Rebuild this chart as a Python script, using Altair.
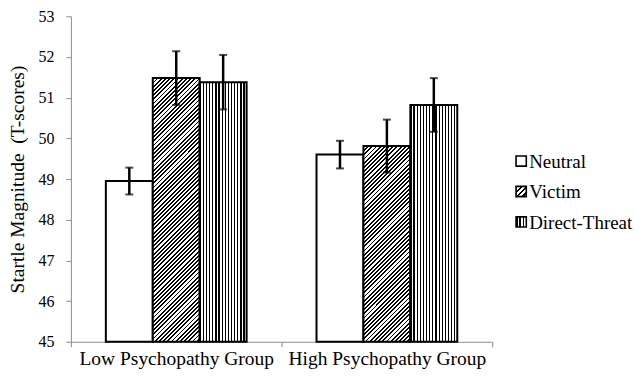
import altair as alt
import pandas as pd

groups = ["Low Psychopathy Group", "High Psychopathy Group"]
conditions = ["Neutral", "Victim", "Direct-Threat"]
means = {
    "Low Psychopathy Group": [48.95, 51.48, 51.38],
    "High Psychopathy Group": [49.60, 49.81, 50.82],
}
errors = {
    "Low Psychopathy Group": [0.33, 0.66, 0.67],
    "High Psychopathy Group": [0.34, 0.65, 0.66],
}
y_ticks = [45, 46, 47, 48, 49, 50, 51, 52, 53]

rows = []
for g in groups:
    for c, m, e in zip(conditions, means[g], errors[g]):
        rows.append({"group": g, "cond": c, "mean": m, "lo": m - e, "hi": m + e})
df = pd.DataFrame(rows)

FONT = "Liberation Serif"
W, H = 422, 326
YMIN, YMAX = 45, 53
PX_PER_UNIT = H / (YMAX - YMIN)
BAR_W = 47.0


def stripe_gradient(n, duty, x1, y1, x2, y2):
    stops = []
    for i in range(n):
        a = i / n
        b = (i + duty) / n
        c = (i + 1) / n
        stops += [
            {"offset": a, "color": "#000000"},
            {"offset": b, "color": "#000000"},
            {"offset": b, "color": "#ffffff"},
            {"offset": c, "color": "#ffffff"},
        ]
    return {"gradient": "linear", "x1": x1, "y1": y1, "x2": x2, "y2": y2, "stops": stops}


def vertical_stripes(width_px, period=3.1):
    n = max(1, round(width_px / period))
    return stripe_gradient(n, 0.4, 0, 0, 1, 0)


def diagonal_hatch(w, h, spacing=4.2):
    # "/" hatch at 45 degrees in pixel space inside a w x h box
    r = w / h
    cfac = (r + 1) / (r * r + 1)
    n = max(1, round((w + h) / spacing))
    return stripe_gradient(n, 0.45, 0, 0, r * cfac, cfac)


x_enc = alt.X(
    "group:N",
    sort=groups,
    scale=alt.Scale(paddingInner=0, paddingOuter=0),
    axis=alt.Axis(
        title=None, labelAngle=0, tickBand="extent", labelFont=FONT, labelFontSize=19.5,
        labelColor="black", domainColor="#8c8c8c", tickColor="#8c8c8c", tickSize=5,
        labelPadding=3, domainWidth=1, labelLimit=400,
    ),
)
xoff_enc = alt.XOffset("cond:N", sort=conditions, scale=alt.Scale(paddingInner=0, paddingOuter=0.745))
y_enc = alt.Y(
    "mean:Q",
    scale=alt.Scale(domain=[YMIN, YMAX], zero=False, nice=False),
    axis=alt.Axis(
        values=y_ticks, title="Startle Magnitude\u2002(T-scores)", grid=False, labelFont=FONT,
        labelFontSize=16, labelColor="black", titleFont=FONT, titleFontSize=19.5,
        titleFontWeight="normal", titleColor="black", domainColor="#8c8c8c",
        tickColor="#8c8c8c", tickSize=5, labelPadding=12, titlePadding=10,
    ),
)

base = alt.Chart(df)
layers = []
for g in groups:
    for c, m in zip(conditions, means[g]):
        h = (m - YMIN) * PX_PER_UNIT
        if c == "Neutral":
            fill = "#ffffff"
        elif c == "Victim":
            fill = diagonal_hatch(BAR_W, h)
        else:
            fill = vertical_stripes(BAR_W)
        layers.append(
            base.transform_filter(
                (alt.datum.group == g) & (alt.datum.cond == c)
            ).mark_bar(fill=fill, stroke="black", strokeWidth=2, fillOpacity=1).encode(
                x=x_enc, xOffset=xoff_enc, y=y_enc, y2=alt.datum(YMIN)
            )
        )

err_rule = base.mark_rule(color="black", strokeWidth=2.5).encode(
    x=x_enc, xOffset=xoff_enc, y="lo:Q", y2="hi:Q"
)
cap_lo = base.mark_tick(color="black", thickness=2, size=8).encode(
    x=x_enc, xOffset=xoff_enc, y=alt.Y("lo:Q")
)
cap_hi = base.mark_tick(color="black", thickness=2, size=8).encode(
    x=x_enc, xOffset=xoff_enc, y=alt.Y("hi:Q")
)

main = alt.layer(*layers, err_rule, cap_lo, cap_hi).properties(width=W, height=H)

# custom legend (item order 0, 1, 2 from top)
leg_df = pd.DataFrame({"cond": conditions, "idx": [0, 1, 2]})
STEP = 30.5
FIRST = 145
leg_y = alt.Y(
    "idx:Q", axis=None,
    scale=alt.Scale(domain=[-FIRST / STEP, (H - FIRST) / STEP], reverse=True, nice=False, zero=False),
)
leg_layers = []
for c in conditions:
    if c == "Neutral":
        f = "#ffffff"
    elif c == "Victim":
        f = stripe_gradient(4, 0.45, 0, 0, 1, 1)
    else:
        f = stripe_gradient(3, 0.45, 0, 0, 1, 0)
    leg_layers.append(
        alt.Chart(leg_df).transform_filter(alt.datum.cond == c).mark_point(
            shape="square", size=105, filled=True, fill=f, stroke="black", strokeWidth=1.6, opacity=1
        ).encode(x=alt.value(6), y=leg_y)
    )
leg_text = alt.Chart(leg_df).mark_text(
    align="left", baseline="middle", font=FONT, fontSize=19, color="black", dy=1
).encode(x=alt.value(14), y=leg_y, text="cond:N")
legend = alt.layer(*leg_layers, leg_text).properties(width=114, height=H)

chart = alt.hconcat(main, legend, spacing=19).properties(
    padding={"left": 0, "top": 0, "right": 0, "bottom": 0}
).configure(background="white").configure_view(stroke=None)

chart.save("out.html", embed_options={"renderer": "svg", "actions": False})
